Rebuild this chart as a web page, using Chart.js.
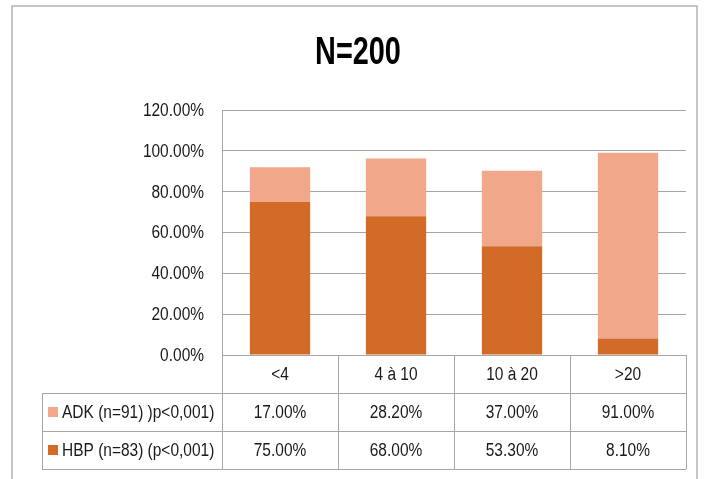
<!DOCTYPE html>
<html>
<head>
<meta charset="utf-8">
<script src="https://cdn.jsdelivr.net/npm/chart.js@4.4.0/dist/chart.umd.min.js"></script>
<style>
    html, body { margin: 0; padding: 0; background: #ffffff; }
    #wrap { width: 708px; height: 479px; position: relative; }
</style>
</head>
<body>
<div id="wrap"><canvas id="chart" width="708" height="479"></canvas></div>
<script>
const chartTitle = 'N=200';
const categories = ['<4', '4 à 10', '10 à 20', '>20'];
const hbpLabel = 'HBP (n=83) (p<0,001)';
const adkLabel = 'ADK (n=91) )p<0,001)';
const hbpValues = [75.0, 68.0, 53.3, 8.1];
const adkValues = [17.0, 28.2, 37.0, 91.0];
const yTicks = [0, 20, 40, 60, 80, 100, 120];

const darkOrange = '#d26b27';
const lightOrange = '#f0a78a';
const lineGray = '#a6a6a6';
const textColor = '#1a1a1a';
const fontFamily = '"Liberation Sans", Arial, sans-serif';
const narrow = 0.86; // the original uses a condensed face

const formatPct = value => `${value.toFixed(2)}%`;

function drawText(ctx, text, x, y, align, sx) {
    ctx.save();
    ctx.translate(x, y);
    ctx.scale(sx, 1);
    ctx.textAlign = align;
    ctx.fillText(text, 0, 0);
    ctx.restore();
}

const tablePlugin = {
    id: 'dataTable',
    afterDraw(chart) {
        const ctx = chart.ctx;
        const area = chart.chartArea;
        const x = chart.scales.x;
        const y = chart.scales.y;
        const rowH = 38;
        const tableLeft = 42;
        const rows = [
            { label: adkLabel, color: lightOrange, values: adkValues },
            { label: hbpLabel, color: darkOrange, values: hbpValues }
        ];

        ctx.save();

        // outer frame
        ctx.strokeStyle = '#b4b4b4';
        ctx.lineWidth = 1.5;
        ctx.strokeRect(12, 6, 685, 490);

        // title
        ctx.fillStyle = '#000000';
        ctx.font = `bold 39px ${fontFamily}`;
        ctx.textBaseline = 'middle';
        drawText(ctx, chartTitle, 358, 53, 'center', 0.74);

        // y tick labels
        ctx.fillStyle = textColor;
        ctx.font = `18px ${fontFamily}`;
        yTicks.forEach(v => {
            drawText(ctx, formatPct(v), 204, y.getPixelForValue(v) + 1, 'right', narrow);
        });

        // table grid
        ctx.strokeStyle = lineGray;
        ctx.lineWidth = 1;
        const top = area.bottom;
        const bottom = top + rowH * 3;
        const step = x.getPixelForValue(1) - x.getPixelForValue(0);
        const edges = categories.map((_, i) => x.getPixelForValue(i) - step / 2);
        edges.push(area.right);

        ctx.beginPath();
        edges.forEach(px => {
            ctx.moveTo(Math.round(px) + 0.5, top);
            ctx.lineTo(Math.round(px) + 0.5, bottom);
        });
        for (let r = 1; r <= 3; r++) {
            const ly = Math.round(top + rowH * r) + 0.5;
            ctx.moveTo(tableLeft, ly);
            ctx.lineTo(area.right, ly);
        }
        ctx.moveTo(tableLeft + 0.5, top + rowH);
        ctx.lineTo(tableLeft + 0.5, bottom);
        ctx.stroke();

        // category row
        ctx.fillStyle = textColor;
        categories.forEach((cat, i) => {
            drawText(ctx, cat, x.getPixelForValue(i), top + rowH / 2 + 1, 'center', narrow);
        });

        // series rows
        rows.forEach((row, r) => {
            const cy = top + rowH * (r + 1) + rowH / 2 + 1;
            ctx.fillStyle = row.color;
            ctx.fillRect(48, cy - 6, 10, 10);
            ctx.fillStyle = textColor;
            drawText(ctx, row.label, 62, cy, 'left', narrow);
            row.values.forEach((v, i) => {
                drawText(ctx, formatPct(v), x.getPixelForValue(i), cy, 'center', narrow);
            });
        });

        ctx.restore();
    }
};

new Chart(document.getElementById('chart'), {
    type: 'bar',
    data: {
        labels: categories,
        datasets: [
            {
                label: hbpLabel,
                data: hbpValues,
                backgroundColor: darkOrange,
                categoryPercentage: 1,
                barPercentage: 0.52
            },
            {
                label: adkLabel,
                data: adkValues,
                backgroundColor: lightOrange,
                categoryPercentage: 1,
                barPercentage: 0.52
            }
        ]
    },
    options: {
        responsive: false,
        animation: false,
        layout: { padding: { left: 0, right: 22, top: 110, bottom: 124 } },
        plugins: {
            legend: { display: false },
            title: { display: false },
            tooltip: { enabled: false }
        },
        scales: {
            x: {
                stacked: true,
                ticks: { display: false },
                grid: { display: false },
                border: { display: false },
                afterFit: scale => { scale.height = 0; }
            },
            y: {
                stacked: true,
                min: 0,
                max: 120,
                afterBuildTicks: scale => {
                    scale.ticks = yTicks.map(value => ({ value }));
                },
                afterFit: scale => { scale.width = 222; },
                ticks: { display: false },
                grid: { color: lineGray, drawTicks: false },
                border: { display: true, color: lineGray }
            }
        }
    },
    plugins: [tablePlugin]
});
</script>
</body>
</html>
